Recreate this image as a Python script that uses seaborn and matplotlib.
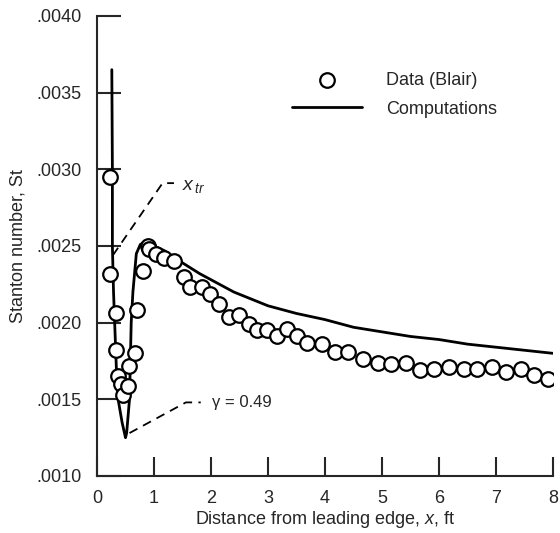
import numpy as np
import pandas as pd
import matplotlib
matplotlib.use("Agg")
import matplotlib.pyplot as plt
import seaborn as sns

# Blair data (circles)
data_x = [0.23, 0.23, 0.33, 0.34, 0.37, 0.42, 0.45, 0.54, 0.57, 0.66, 0.70, 0.80,
          0.89, 0.92, 1.03, 1.18, 1.35, 1.53, 1.64, 1.85, 1.99, 2.14, 2.31, 2.49,
          2.66, 2.81, 2.98, 3.16, 3.33, 3.50, 3.68, 3.94, 4.17, 4.41, 4.67, 4.93,
          5.16, 5.42, 5.67, 5.92, 6.18, 6.43, 6.67, 6.93, 7.18, 7.44, 7.67, 7.92]
data_st = [0.00295, 0.00232, 0.00206, 0.00182, 0.00165, 0.00160, 0.00153, 0.00159,
           0.00172, 0.00180, 0.00208, 0.00234, 0.00250, 0.00248, 0.00245, 0.00242,
           0.00240, 0.00230, 0.00223, 0.00223, 0.00219, 0.00212, 0.00204, 0.00205,
           0.00199, 0.00195, 0.00195, 0.00191, 0.00196, 0.00191, 0.00187, 0.00186,
           0.00181, 0.00181, 0.00176, 0.00174, 0.00173, 0.00174, 0.00169, 0.00170,
           0.00171, 0.00170, 0.00170, 0.00171, 0.00168, 0.00170, 0.00166, 0.00163]

# computed curve
comp_x = [0.26, 0.27, 0.27, 0.29, 0.31, 0.34, 0.37, 0.44, 0.50, 0.52, 0.57, 0.60,
          0.63, 0.69, 0.76, 0.86, 1.00, 1.18, 1.50, 1.80, 2.00, 2.40, 3.00, 3.50,
          4.00, 4.50, 5.00, 5.50, 6.00, 6.50, 7.00, 7.50, 8.00]
comp_st = [0.00365, 0.00300, 0.00250, 0.00220, 0.00200, 0.00170, 0.00150, 0.00135,
           0.00125, 0.00128, 0.00150, 0.00200, 0.00220, 0.00245, 0.00251, 0.00253,
           0.00250, 0.00247, 0.00239, 0.00232, 0.00228, 0.00220, 0.00211, 0.00206,
           0.00202, 0.00197, 0.00194, 0.00191, 0.00189, 0.00186, 0.00184, 0.00182,
           0.00180]

x_ticks = [0, 1, 2, 3, 4, 5, 6, 7, 8]
y_ticks = [0.0010, 0.0015, 0.0020, 0.0025, 0.0030, 0.0035, 0.0040]
y_ticklabels = [".0010", ".0015", ".0020", ".0025", ".0030", ".0035", ".0040"]

df_data = pd.DataFrame({"x": data_x, "St": data_st})
df_comp = pd.DataFrame({"x": comp_x, "St": comp_st})

sns.set_style("ticks")
plt.rcParams["font.family"] = ["Liberation Sans", "DejaVu Sans"]
plt.rcParams["mathtext.fontset"] = "custom"
plt.rcParams["mathtext.it"] = "Liberation Sans:italic"
plt.rcParams["mathtext.rm"] = "Liberation Sans"

fig = plt.figure(figsize=(5.6, 5.33), dpi=100)
ax = fig.add_axes([97 / 560, 57 / 533, 456 / 560, 460 / 533])

sns.scatterplot(data=df_data, x="x", y="St", ax=ax, marker="o", s=110,
                facecolor="white", edgecolor="black", linewidth=1.6,
                label="Data (Blair)", zorder=3)
sns.lineplot(data=df_comp, x="x", y="St", ax=ax, sort=False, estimator=None,
             color="black", linewidth=2.0, label="Computations", zorder=2)

# annotations
ax.plot([0.28, 1.15, 1.35], [0.00244, 0.00291, 0.00291], color="black",
        linestyle=(0, (5, 3.5)), linewidth=1.3)
ax.text(1.5, 0.00289, r"$x_{\,tr}$", fontsize=14, va="center", ha="left")
ax.plot([0.57, 1.56, 1.82], [0.00128, 0.00148, 0.00148], color="black",
        linestyle=(0, (5, 3.5)), linewidth=1.3)
ax.text(2.02, 0.00148, "γ = 0.49", fontsize=12, va="center", ha="left")

ax.set_xlim(0, 8)
ax.set_ylim(0.0010, 0.0040)
ax.set_xticks(x_ticks)
ax.set_xticklabels([str(t) for t in x_ticks], fontsize=13)
ax.set_yticks(y_ticks)
ax.set_yticklabels(y_ticklabels, fontsize=13)
ax.tick_params(axis="y", direction="in", length=17, width=1.5, pad=11)
ax.tick_params(axis="x", direction="in", length=14, width=1.5, pad=10)
sns.despine(ax=ax)
for sp in ["left", "bottom"]:
    ax.spines[sp].set_linewidth(1.5)

ax.set_xlabel("Distance from leading edge, $x$, ft", fontsize=13, va="center")
ax.set_ylabel("Stanton number, St", fontsize=13, va="center")
ax.xaxis.set_label_coords(0.5, -0.095)
ax.yaxis.set_label_coords(-0.173, 0.5)

ax.legend(frameon=False, loc="upper left", bbox_to_anchor=(292 / 560, 0.865),
          bbox_transform=fig.transFigure, fontsize=13, handlelength=3.9,
          handletextpad=1.3, labelspacing=0.65, borderpad=0, borderaxespad=0)

fig.savefig("out.png", dpi=100)
